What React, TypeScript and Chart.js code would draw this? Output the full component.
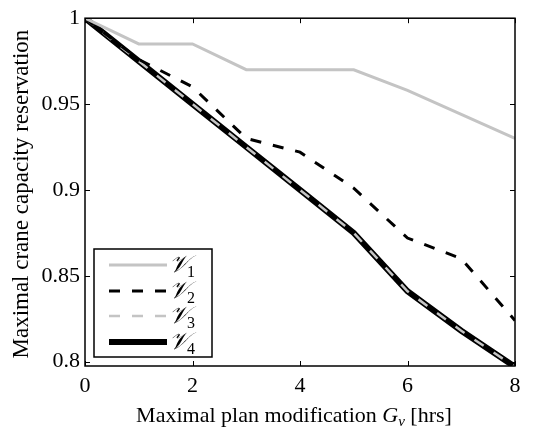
import React, { useEffect, useRef } from "react";
import { Chart, registerables } from "chart.js";

Chart.register(...registerables);

const xs = [0, 1, 2, 3, 4, 5, 6, 7, 8];
const v1 = [1, 0.985, 0.985, 0.97, 0.97, 0.97, 0.958, 0.944, 0.93];
const v2 = [1, 0.976, 0.96, 0.93, 0.922, 0.901, 0.872, 0.86, 0.824];
const v3 = [1, 0.975, 0.95, 0.925, 0.9, 0.875, 0.841, 0.818, 0.797];
const v4 = [1, 0.975, 0.95, 0.925, 0.9, 0.875, 0.841, 0.818, 0.797];
const xTicks = [0, 2, 4, 6, 8];
const yTicks = [0.8, 0.85, 0.9, 0.95, 1];
const seriesNames = ["𝒱", "𝒱", "𝒱", "𝒱"];
const seriesSubs = ["1", "2", "3", "4"];
const xTitleParts = ["Maximal plan modification ", "G", "v", " [hrs]"];
const yTitle = "Maximal crane capacity reservation";

const FONT = "'Liberation Serif', 'DejaVu Serif', serif";

const framePlugin = {
  id: "frame",
  afterDraw(chart: any) {
    const ctx = chart.ctx;
    const ca = chart.chartArea;
    const xs_ = chart.scales.x;
    const ys_ = chart.scales.y;
    ctx.save();
    ctx.strokeStyle = "#000";
    ctx.lineWidth = 1.5;
    ctx.strokeRect(ca.left, ca.top, ca.right - ca.left, ca.bottom - ca.top);
    ctx.lineWidth = 1;
    const tl = 5;
    for (const v of yTicks) {
      const py = Math.round(ys_.getPixelForValue(v)) + 0.5;
      ctx.beginPath();
      ctx.moveTo(ca.left, py);
      ctx.lineTo(ca.left + tl, py);
      ctx.moveTo(ca.right, py);
      ctx.lineTo(ca.right - tl, py);
      ctx.stroke();
    }
    for (const v of xTicks) {
      const px = Math.round(xs_.getPixelForValue(v)) + 0.5;
      ctx.beginPath();
      ctx.moveTo(px, ca.bottom);
      ctx.lineTo(px, ca.bottom - tl);
      ctx.moveTo(px, ca.top);
      ctx.lineTo(px, ca.top + tl);
      ctx.stroke();
    }

    // legend
    const bx = 94, by = 249, bw = 118, bh = 108;
    ctx.fillStyle = "#fff";
    ctx.fillRect(bx, by, bw, bh);
    ctx.lineWidth = 1.5;
    ctx.strokeStyle = "#000";
    ctx.strokeRect(bx, by, bw, bh);
    const rows = [265, 291, 316, 342];
    chart.data.datasets.forEach((ds: any, i: number) => {
      const y = rows[i];
      ctx.save();
      ctx.strokeStyle = ds.borderColor;
      ctx.lineWidth = ds.borderWidth;
      ctx.setLineDash(ds.borderDash || []);
      ctx.beginPath();
      ctx.moveTo(109, y);
      ctx.lineTo(167, y);
      ctx.stroke();
      ctx.restore();
      ctx.fillStyle = "#000";
      ctx.textBaseline = "alphabetic";
      ctx.textAlign = "left";
      ctx.font = `italic 24px ${FONT}`;
      ctx.fillText(seriesNames[i], 169, y + 7);
      const w = ctx.measureText(seriesNames[i]).width;
      ctx.font = `16px ${FONT}`;
      ctx.fillText(seriesSubs[i], 169 + w - 2, y + 12);
    });

    // x title
    ctx.fillStyle = "#000";
    ctx.textBaseline = "alphabetic";
    ctx.textAlign = "left";
    const fonts = [`22px ${FONT}`, `italic 22px ${FONT}`, `italic 15px ${FONT}`, `22px ${FONT}`];
    const dy = [0, 0, 4, 0];
    let total = 0;
    const widths = xTitleParts.map((t, i) => {
      ctx.font = fonts[i];
      const w = ctx.measureText(t).width;
      total += w;
      return w;
    });
    let x = 294 - total / 2;
    const baseY = 422;
    xTitleParts.forEach((t, i) => {
      ctx.font = fonts[i];
      ctx.fillText(t, x, baseY + dy[i]);
      x += widths[i];
    });

    // y title
    ctx.save();
    ctx.translate(22, (ca.top + ca.bottom) / 2 + 2);
    ctx.rotate(-Math.PI / 2);
    ctx.textAlign = "center";
    ctx.textBaseline = "middle";
    ctx.font = `23px ${FONT}`;
    ctx.fillText(yTitle, 0, 0);
    ctx.restore();
    ctx.restore();
  },
};

export default function App() {
  const ref = useRef<HTMLCanvasElement>(null);
  useEffect(() => {
    if (!ref.current) return;
    const mk = (arr: number[]) => xs.map((x, i) => ({ x, y: arr[i] }));
    const chart = new Chart(ref.current, {
      type: "line",
      data: {
        datasets: [
          { label: "V1", data: mk(v1), borderColor: "#c4c4c4", borderWidth: 3, pointRadius: 0, fill: false, tension: 0 },
          { label: "V2", data: mk(v2), borderColor: "#000", borderWidth: 3, borderDash: [11, 12], pointRadius: 0, fill: false, tension: 0 },
          { label: "V3", data: mk(v3), borderColor: "#c4c4c4", borderWidth: 2.5, borderDash: [11, 12], pointRadius: 0, fill: false, tension: 0 },
          { label: "V4", data: mk(v4), borderColor: "#000", borderWidth: 6, pointRadius: 0, fill: false, tension: 0 },
        ],
      },
      options: {
        animation: false,
        responsive: false,
        maintainAspectRatio: false,
        layout: { padding: { left: 0, top: 13, right: 27, bottom: 0 } },
        plugins: { legend: { display: false }, tooltip: { enabled: false } },
        scales: {
          x: {
            type: "linear",
            min: 0,
            max: 8,
            grid: { display: false, drawTicks: false },
            border: { display: false },
            afterBuildTicks: (s: any) => { s.ticks = xTicks.map((v) => ({ value: v })); },
            afterFit: (s: any) => { s.height = 65; },
            ticks: { color: "#000", font: { family: FONT, size: 22 }, padding: 7, maxRotation: 0, callback: (v: any) => String(v) },
          },
          y: {
            type: "linear",
            min: 0.7975,
            max: 1,
            grid: { display: false, drawTicks: false },
            border: { display: false },
            afterBuildTicks: (s: any) => { s.ticks = yTicks.map((v) => ({ value: v })); },
            afterFit: (s: any) => { s.width = 85; },
            ticks: { color: "#000", font: { family: FONT, size: 22 }, padding: 5, callback: (v: any) => String(Number(v)) },
          },
        },
      },
      plugins: [framePlugin],
    });
    return () => chart.destroy();
  }, []);
  return (
    <div style={{ position: "fixed", left: 0, top: 0, width: 542, height: 431, background: "#fff" }}>
      <canvas ref={ref} width={542} height={431} style={{ display: "block" }} />
    </div>
  );
}
